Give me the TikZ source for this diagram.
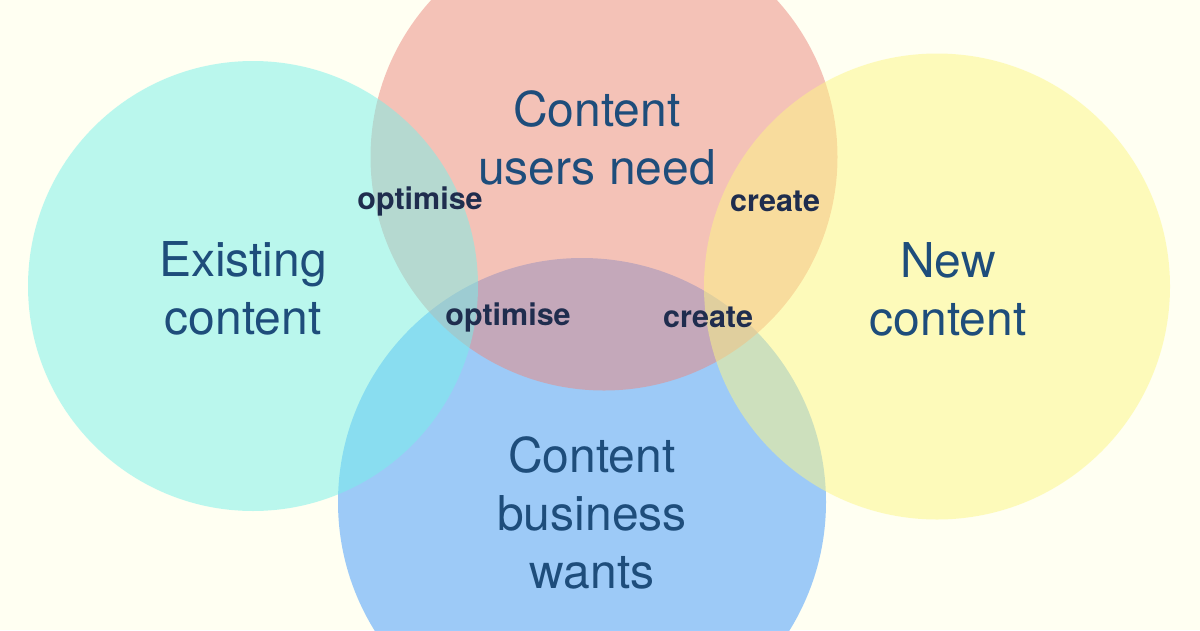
\documentclass[tikz,border=0pt]{standalone}
\usepackage{fontspec}
\setmainfont{TeX Gyre Heros}
\usepackage{tikz}
\definecolor{paper}{HTML}{FFFFF2}
\definecolor{aqua}{HTML}{77F1EA}
\definecolor{coral}{HTML}{EB877E}
\definecolor{lemon}{HTML}{FDF784}
\definecolor{azure}{HTML}{3D97FC}
\definecolor{ink}{HTML}{1E4D7B}
\definecolor{navy}{HTML}{1F2D4E}
\usetikzlibrary{positioning}

\begin{document}
\begin{tikzpicture}[
    x=1pt, y=-1pt,
    % Circle styles
    set circle/.style={
        circle,
        draw=none,
        fill opacity=0.5,
        inner sep=0pt
    },
    set label/.style={
        align=center,
        text=ink,
        font=\fontsize{48}{58}\selectfont
    },
    action label/.style={
        text=navy,
        font=\fontsize{30.5}{36}\selectfont\bfseries
    }
]

% Canvas
\fill[paper] (0,0) rectangle (1200,630);
\useasboundingbox (0,0) rectangle (1200,630);

% Sets (blue first, then red, then cyan and yellow on top)
\node[set circle, fill=azure, minimum size=488pt] (business) at (582,502) {};
\node[set circle, fill=coral, minimum size=467pt] (users) at (604,157) {};
\node[set circle, fill=aqua, minimum size=450pt] (existing) at (253,286) {};
\node[set circle, fill=lemon, minimum size=466pt] (newc) at (937,286.5) {};

% Set names
\node[set label] (existing-t) at (243,288) {Existing\\content};
\node[set label] (users-t) at (597,138) {Content\\users need};
\node[set label] (newc-t) at (948,289) {New\\content};
\node[set label] (business-t) at (592,513) {Content\\business\\wants};

% Actions on overlaps
\node[action label] (opt-a) at (420,201) {optimise};
\node[action label] (cre-a) at (775,201) {create};
\node[action label] (opt-b) at (508,317) {optimise};
\node[action label] (cre-b) at (708,317) {create};

\end{tikzpicture}
\end{document}
